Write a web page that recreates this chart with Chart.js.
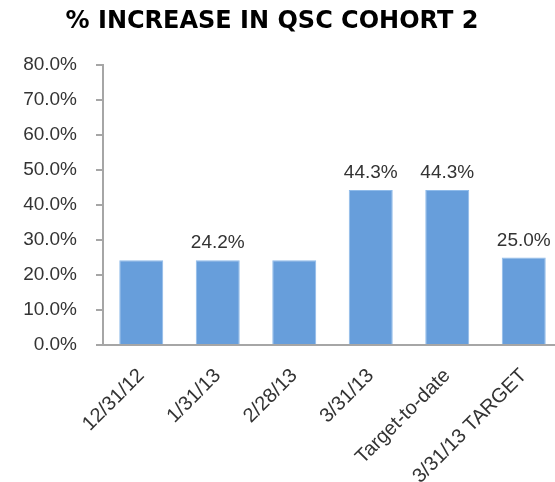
<!DOCTYPE html>
<html>
<head>
<meta charset="utf-8">
<script src="https://cdn.jsdelivr.net/npm/chart.js@4.4.1/dist/chart.umd.min.js"></script>
<style>
  html, body { margin: 0; padding: 0; background: #fff; overflow: hidden; }
  #wrap { width: 555px; height: 482px; overflow: hidden; }
  #wrap canvas { display: block; }
</style>
</head>
<body>
<div id="wrap"><canvas id="qscChart" width="562" height="482"></canvas></div>
<script>
const chartTitle = '% INCREASE IN QSC COHORT 2';
const categories = ['12/31/12', '1/31/13', '2/28/13', '3/31/13', 'Target-to-date', '3/31/13 TARGET'];
const values = [24.2, 24.2, 24.2, 44.3, 44.3, 25.0];
const barLabels = ['', '24.2%', '', '44.3%', '44.3%', '25.0%'];
const yTicks = [0, 10, 20, 30, 40, 50, 60, 70, 80];

const axisGrey = '#a6a6a6';
const textDark = '#333333';

// etiquetas encima de las barras (solo las que tienen texto)
const barLabelPlugin = {
  id: 'barLabels',
  afterDatasetsDraw(chart) {
    const ctx = chart.ctx;
    const meta = chart.getDatasetMeta(0);
    ctx.save();
    ctx.font = '19px "Liberation Sans", Arial, sans-serif';
    ctx.fillStyle = textDark;
    ctx.textAlign = 'center';
    ctx.textBaseline = 'alphabetic';
    meta.data.forEach((bar, i) => {
      if (!barLabels[i]) return;
      ctx.fillText(barLabels[i], bar.x, bar.y - 12);
    });
    ctx.restore();
  }
};

// titulo centrado sobre la imagen visible (555px), no sobre el canvas completo
const titlePlugin = {
  id: 'topTitle',
  afterDraw(chart) {
    const ctx = chart.ctx;
    ctx.save();
    ctx.font = 'bold 24px "DejaVu Sans", "Liberation Sans", sans-serif';
    ctx.fillStyle = '#000';
    ctx.textAlign = 'center';
    ctx.textBaseline = 'middle';
    ctx.fillText(chartTitle, 272, 22);
    ctx.restore();
  }
};

const ctx = document.getElementById('qscChart').getContext('2d');
new Chart(ctx, {
  type: 'bar',
  data: {
    labels: categories,
    datasets: [{
      data: values,
      backgroundColor: '#679edb',
      borderColor: '#8fbbea',
      borderWidth: 1,
      barPercentage: 0.575,
      categoryPercentage: 1.0
    }]
  },
  options: {
    responsive: false,
    animation: false,
    layout: { padding: { left: 0, right: 0, top: 65, bottom: 0 } },
    plugins: {
      legend: { display: false },
      tooltip: { enabled: false },
      title: { display: false }
    },
    scales: {
      x: {
        grid: { display: false },
        border: { display: true, color: axisGrey, width: 2 },
        ticks: {
          color: textDark,
          font: { family: '"Liberation Sans", Arial, sans-serif', size: 20 },
          maxRotation: 45,
          minRotation: 45,
          padding: 11
        },
        afterFit(scale) { scale.height = 137; }
      },
      y: {
        min: 0,
        max: 80,
        afterBuildTicks(scale) { scale.ticks = yTicks.map(v => ({ value: v })); },
        grid: { drawOnChartArea: false, color: axisGrey, tickLength: 7, lineWidth: 2 },
        border: { display: true, color: axisGrey, width: 2 },
        ticks: {
          color: textDark,
          font: { family: '"Liberation Sans", Arial, sans-serif', size: 19 },
          padding: 19,
          callback: v => v.toFixed(1) + '%'
        },
        afterFit(scale) { scale.width = 103; }
      }
    }
  },
  plugins: [barLabelPlugin, titlePlugin]
});
</script>
</body>
</html>
